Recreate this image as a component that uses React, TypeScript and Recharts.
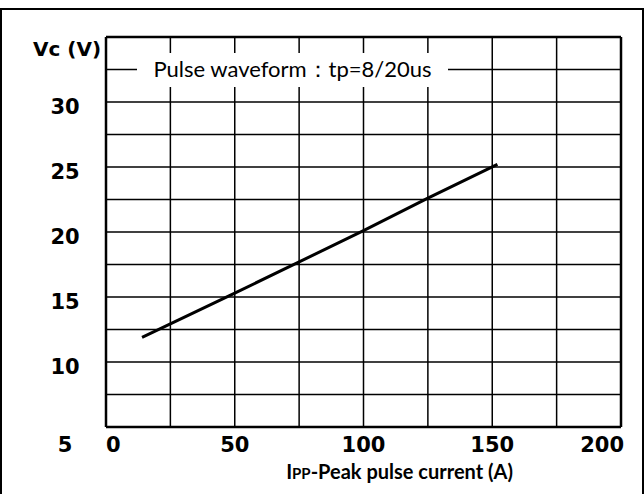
import { LineChart, Line, XAxis, YAxis, CartesianGrid, ReferenceLine } from "recharts";

const ippValues = [14, 50, 100, 125, 152];
const vcValues = [11.9, 15.3, 20.1, 22.6, 25.2];
const xTicks = [0, 25, 50, 75, 100, 125, 150, 175, 200];
const yTicks = [5, 7.5, 10, 12.5, 15, 17.5, 20, 22.5, 25, 27.5, 30, 32.5, 35];
const xLabels = [0, 50, 100, 150, 200];
const yLabels = [5, 10, 15, 20, 25, 30];

const data = ippValues.map((ipp, i) => ({ ipp, vc: vcValues[i] }));

const tickFont = "'DejaVu Sans', sans-serif";

const XTick = ({ x, y, payload }: any) => {
  const v = payload.value;
  if (!xLabels.includes(v)) return null;
  const anchor = v === 0 ? "start" : v === 200 ? "end" : "middle";
  return (
    <text x={x} y={y} dy={17} dx={v === 200 ? 3 : 0} textAnchor={anchor} fontFamily={tickFont} fontWeight={700} fontSize={21} fill="#000">
      {v}
    </text>
  );
};

const YTick = ({ x, y, payload }: any) => {
  const v = payload.value;
  if (v === 35) {
    return (
      <text x={x} y={y} dx={-31} dy={19} textAnchor="middle" fontFamily={tickFont} fontWeight={700} fontSize={20} fill="#000">
        Vc (V)
      </text>
    );
  }
  if (!yLabels.includes(v)) return null;
  return (
    <text x={x} y={y} dx={-33} dy={v === 5 ? 25 : 12} textAnchor="middle" fontFamily={tickFont} fontWeight={700} fontSize={21} fill="#000">
      {v}
    </text>
  );
};

const AxisTitle = ({ viewBox }: any) => (
  <text
    x={viewBox.x + viewBox.width / 2 + 36}
    y={viewBox.y + 52}
    textAnchor="middle"
    fontFamily="Lato, sans-serif"
    fontWeight={700}
    fontSize={20}
    fill="#000"
  >
    I<tspan fontSize={15}>PP</tspan>-Peak pulse current (A)
  </text>
);

export default function App() {
  return (
    <div style={{ position: "absolute", left: 0, top: 0, width: 644, height: 494, background: "#fff" }}>
      <div
        style={{
          position: "absolute",
          left: 0,
          top: 8,
          width: 644,
          height: 500,
          boxSizing: "border-box",
          borderTop: "2px solid #000",
          borderLeft: "2px solid #000",
          borderRight: "2px solid #000",
        }}
      />
      <LineChart width={644} height={494} data={data} margin={{ top: 37, right: 23, bottom: 0, left: 0 }}>
        <CartesianGrid stroke="#000" strokeWidth={1.5} />
        <XAxis
          type="number"
          dataKey="ipp"
          domain={[0, 200]}
          ticks={xTicks}
          interval={0}
          height={67}
          axisLine={false}
          tickLine={false}
          tick={<XTick />}
          label={<AxisTitle />}
        />
        <YAxis
          type="number"
          domain={[5, 35]}
          ticks={yTicks}
          interval={0}
          width={106}
          axisLine={false}
          tickLine={false}
          tick={<YTick />}
        />
        <ReferenceLine x={0} stroke="#000" strokeWidth={2.5} />
        <ReferenceLine x={200} stroke="#000" strokeWidth={2.5} />
        <ReferenceLine y={5} stroke="#000" strokeWidth={2.5} />
        <ReferenceLine y={35} stroke="#000" strokeWidth={2.5} />
        <Line type="linear" dataKey="vc" stroke="#000" strokeWidth={3} dot={false} isAnimationActive={false} />
      </LineChart>
      <div
        style={{
          position: "absolute",
          left: 137,
          top: 53,
          width: 311,
          height: 34,
          background: "#fff",
          display: "flex",
          alignItems: "center",
          justifyContent: "center",
          fontFamily: "Lato, sans-serif",
          fontSize: 22,
          color: "#000",
          whiteSpace: "nowrap",
        }}
      >
        Pulse waveform：tp=8/20us
      </div>
    </div>
  );
}
